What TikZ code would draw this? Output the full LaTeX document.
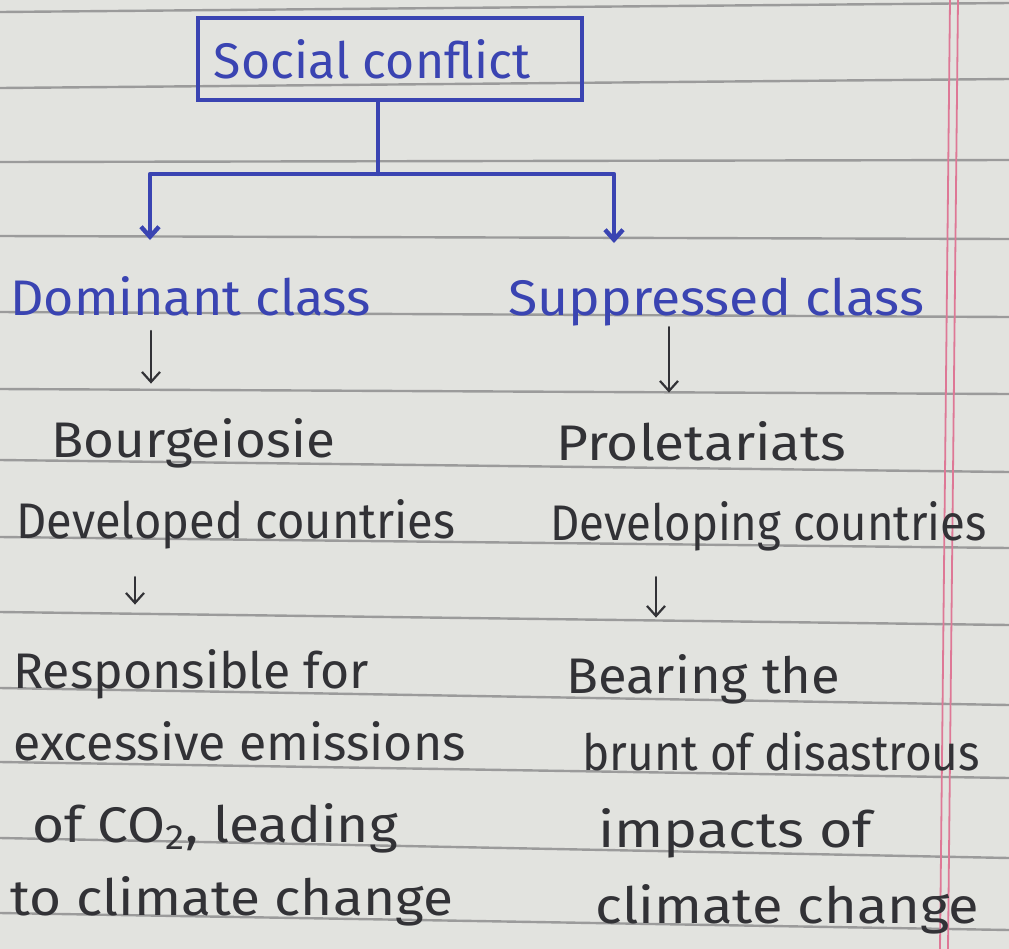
\documentclass[tikz,border=0pt]{standalone}
\usepackage{fontspec}
\setmainfont{Fira Sans}
\usetikzlibrary{positioning,arrows.meta}
\definecolor{penblue}{RGB}{58,68,178}
\definecolor{penink}{RGB}{50,50,54}
\definecolor{paper}{RGB}{226,227,223}
\definecolor{ruling}{RGB}{155,155,155}
\definecolor{margin}{RGB}{222,120,150}

\begin{document}
\begin{tikzpicture}[x=0.5pt,y=-0.5pt,font=\fontsize{25}{30}\selectfont]
            \tikzstyle{ruled}=[draw=ruling,line width=1.2pt]
            \tikzstyle{blue pen}=[draw=penblue,line width=2.2pt,line cap=round,line join=round]
            \tikzstyle{ink pen}=[draw=penink,line width=1.1pt,line cap=round]
            \tikzstyle{tip}=[-{Straight Barb[length=5pt,width=9pt]}]
            \tikzstyle{word}=[inner sep=0pt,anchor=base west,text=penink]
            \tikzstyle{blue word}=[word,text=penblue]
            \fill[paper] (0,0) rectangle (1009,949);
            \useasboundingbox (0,0) rectangle (1009,949);
            % ruled page
            \draw[ruled] (0,12) -- (1009,3) (0,88) -- (1009,79) (0,162) -- (1009,160)
              (0,236) -- (1009,239) (0,312) -- (1009,317) (0,389) -- (1009,394)
              (0,460) -- (1009,472) (0,537) -- (1009,548) (0,612) -- (1009,625)
              (0,688) -- (1009,705) (0,762) -- (1009,778) (0,838) -- (1009,858)
              (0,913) -- (1009,930);
            \draw[draw=margin,line width=0.9pt] (950,0) -- (940,949) (958,0) -- (948,949);
            % title box and fork
            \node(sc)[draw=penblue,line width=2.2pt,minimum width=192pt,minimum height=41pt,text=penblue] at (390,59) {Social conflict\kern18pt};
            \coordinate(fork) at (378,174);
            \coordinate(dtip) at (150,240);
            \coordinate(stip) at (614,243);
            \draw[blue pen] (sc.south -| fork) -- (fork);
            \draw[blue pen,tip] (fork) -| (dtip);
            \draw[blue pen,tip] (fork) -| (stip);
            % classes
            \node(dom)[blue word] at (10,315) {\scalebox{1.04}[1]{Dominant class}};
            \node(sup)[blue word] at (508,315) {\scalebox{1.07}[1]{Suppressed class}};
            \node(bourg)[word] at (51,457) {\scalebox{1.06}[1]{Bourgeiosie}};
            \node(prol)[word] at (556,460) {\scalebox{1.1}[1]{Proletariats}};
            \node(dvd)[word] at (16,538) {\scalebox{0.94}[1]{Developed countries}};
            \node(dvg)[word] at (550,540) {\scalebox{0.91}[1]{Developing countries}};
            \node(rsp1)[word] at (13,688) {Responsible for};
            \node(rsp2)[word] at (13,760) {excessive emissions};
            \node(rsp3)[word] at (32,842) {\scalebox{1.1}[1]{of CO\textsubscript{2}, leading}};
            \node(rsp4)[word] at (10,915) {\scalebox{1.1}[1]{to climate change}};
            \node(bear1)[word] at (566,693) {\scalebox{1.05}[1]{Bearing the}};
            \node(bear2)[word] at (582,770) {\scalebox{0.92}[1]{brunt of disastrous}};
            \node(bear3)[word] at (598,847) {\scalebox{1.15}[1]{impacts of}};
            \node(bear4)[word] at (595,923) {\scalebox{1.12}[1]{climate change}};
            % arrow columns
            \coordinate(dcol) at (151,0);
            \coordinate(scol) at (669,0);
            \coordinate(dvdcol) at (135,0);
            \coordinate(dvgcol) at (656,0);
            \draw[ink pen,tip,shorten <=7.5pt,shorten >=17pt] (dom.south -| dcol) -- (bourg.north -| dcol);
            \draw[ink pen,tip,shorten <=0.5pt,shorten >=14pt] (sup.south -| scol) -- (prol.north -| scol);
            \draw[ink pen,tip,shorten <=14pt,shorten >=22pt] (dvd.south -| dvdcol) -- (rsp1.north -| dvdcol);
            \draw[ink pen,tip,shorten <=13pt,shorten >=18pt] (dvg.south -| dvgcol) -- (bear1.north -| dvgcol);
\end{tikzpicture}
\end{document}
